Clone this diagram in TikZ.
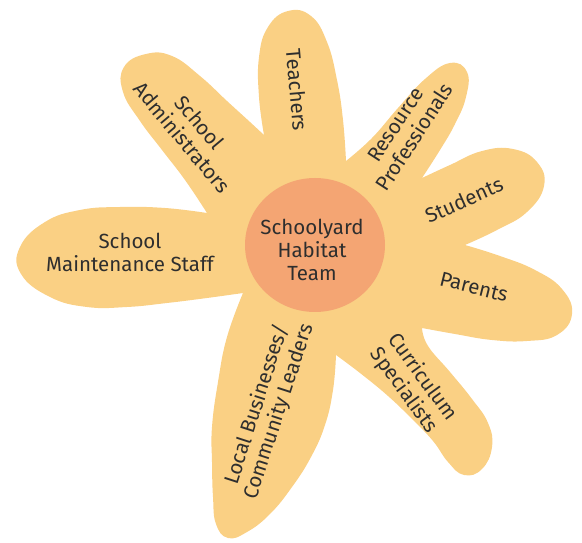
\documentclass[tikz,border=0pt]{standalone}
\usepackage{fontspec}
\setmainfont{Fira Sans}
\usepackage{xcolor}
\usepackage{tikz}
\definecolor{petalyellow}{HTML}{FAD084}
\definecolor{hubcolor}{HTML}{F4A573}
\definecolor{labelgray}{HTML}{2E2E2E}

\begin{document}
\begin{tikzpicture}[x=1pt,y=1pt,
  petal/.style={fill=petalyellow},
  hub/.style={fill=hubcolor},
  lbl/.style={text=labelgray,align=center,inner sep=0pt,
    font=\fontsize{20.5}{23}\selectfont}]
  \useasboundingbox (0,0) rectangle (582,542);

  % flower outline, one smooth piece per petal, corners at the notches
  \fill[petal]
    plot[smooth,tension=0.75] coordinates {(264,407) (259,445) (259,485) (268,515) (288,531)
      (311,526) (327,500) (337,462) (343,422) (346,381)}% Teachers
    -- plot[smooth,tension=0.75] coordinates {(346,381) (372,404) (398,434) (425,463) (450,479)
      (467,470) (466,445) (455,418) (440,392) (422,364)}% Resource
    -- plot[smooth,tension=0.75] coordinates {(422,364) (450,377) (482,391) (513,393) (537,380)
      (544,356) (527,330) (497,312) (465,297)}% Students
    -- plot[smooth,tension=0.75] coordinates {(465,297) (500,286) (535,272) (562,253) (572,228)
      (557,207) (527,201) (492,202) (455,208) (422,214)}% Parents
    -- plot[smooth,tension=0.75] coordinates {(422,214) (428,196) (450,170) (472,143) (488,119)
      (492,95) (482,73) (464,67) (448,80) (433,101) (412,123) (388,146) (360,169) (336,187)}% Curriculum
    -- plot[smooth,tension=0.75] coordinates {(336,187) (333,152) (325,117) (311,85) (292,55)
      (270,28) (247,10) (228,4) (216,18) (213,45) (212,80) (212,115) (218,160) (227,205)
      (243,249)}% Local
    -- plot[smooth,tension=0.75] coordinates {(243,249) (207,244) (167,239) (127,235) (87,235)
      (50,245) (21,268) (20,295) (45,320) (80,332) (120,335) (165,334) (207,329)}% Maintenance
    -- plot[smooth,tension=0.75] coordinates {(207,329) (185,362) (162,392) (140,421) (123,450)
      (124,475) (146,488) (172,486) (200,466) (227,441) (250,420) (264,407)}% Admin
    -- cycle;

  \fill[hub] (315,297) ellipse (70 and 67);
  \node[lbl] (team) at (312,292) {Schoolyard\\Habitat\\Team};

  \node[lbl,rotate=-85] (teachers) at (297,452) {Teachers};
  \node[lbl,rotate=57] (resource) at (405,411) {Resource\\Professionals};
  \node[lbl,rotate=24] (students) at (464,342) {Students};
  \node[lbl,rotate=-14] (parents) at (474,255) {Parents};
  \node[lbl,rotate=-54] (curric) at (413,158) {Curriculum\\Specialists};
  \node[lbl,rotate=72] (local) at (268,134) {Local Businesses/\\Community Leaders};
  \node[lbl] (maint) at (130,290) {School\\Maintenance Staff};
  \node[lbl,rotate=-50] (admin) at (191,412) {School\\Administrators};
\end{tikzpicture}
\end{document}
